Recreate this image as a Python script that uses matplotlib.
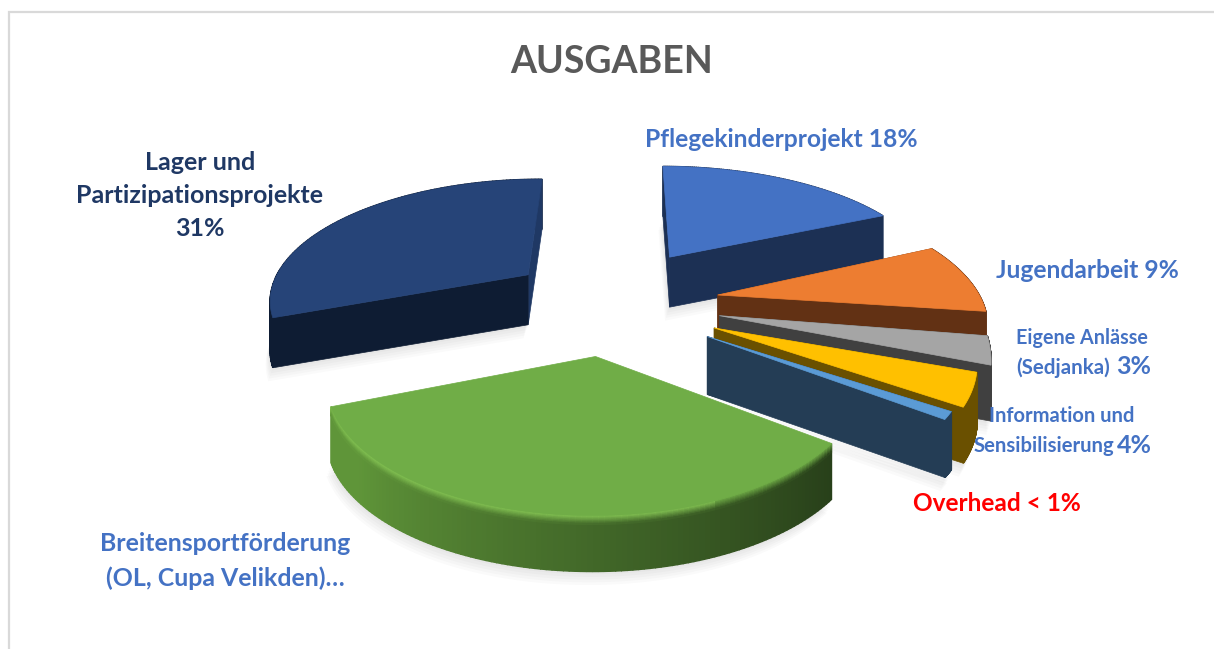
import numpy as np
import matplotlib
matplotlib.use("Agg")
import matplotlib.pyplot as plt
from matplotlib.patches import Polygon
from matplotlib.colors import to_rgb

title = "AUSGABEN"
categories = ["Pflegekinderprojekt", "Jugendarbeit", "Eigene Anlässe (Sedjanka)",
              "Information und Sensibilisierung", "Overhead",
              "Breitensportförderung (OL, Cupa Velikden)", "Lager und Partizipationsprojekte"]
values = [18, 9, 3, 4, 1, 34, 31]
top_colors = ["#4472c4", "#ed7d31", "#a5a5a5", "#ffc000", "#5b9bd5", "#70ad47", "#264478"]
wall_colors = ["#1c3054", "#623114", "#404040", "#6a5000", "#243d55", "#2d4a1b", "#0e1c33"]
explode = [0.48, 0.45, 0.45, 0.455, 0.46, 0.41, 0.424]
wall_heights = [50, 56, 56, 56, 58, 56, 50]
radius_x = [1.12, 1.08, 1.04, 1.0, 0.98, 1.0, 1.07]
radius_y = [1.0, 1.0, 1.15, 1.0, 0.93, 0.92, 1.0]
START = 0.5
CX, CY, R, K, P = 610, 303, 245, 122, 0.18
draw_order = [6, 0, 1, 2, 3, 4, 5]

def project(X, Y, dz=0.0):
    s = 1.0 / (1.0 - P * Y)
    return CX + R * X * s, CY + K * Y * s + dz

fig = plt.figure(figsize=(12.14, 6.49), dpi=100)
ax = fig.add_axes([0, 0, 1, 1])
ax.set_xlim(0, 1214); ax.set_ylim(649, 0); ax.axis("off")
ax.plot([8.5, 8.5, 1214], [649, 12, 12], color="#d9d9d9", lw=1.6, solid_joinstyle="miter")

total = sum(values)
edges = START + 360 * np.concatenate([[0], np.cumsum(values)]) / total

def shape(i, dz=0.0):
    a0, a1 = np.radians(edges[i]), np.radians(edges[i + 1])
    m = (a0 + a1) / 2
    ox, oy = explode[i] * np.sin(m), -explode[i] * np.cos(m)
    th = np.linspace(a0, a1, 120)
    arc = np.array([project(ox + radius_x[i] * np.sin(t), oy - radius_y[i] * np.cos(t), dz) for t in th])
    tip = np.array(project(ox, oy, dz))
    return tip, arc

top_rgb = np.array(to_rgb(top_colors[5]))
for idx, i in enumerate(draw_order):
    h = wall_heights[i]
    tip0, arc0 = shape(i, 0)
    tip1, arc1 = shape(i, h)
    base = np.vstack([tip1, arc1])
    for d in (15, 12, 9, 6, 3):
        ax.add_patch(Polygon(base + [-0.3 * d, d * 0.9], closed=True, fc="#000000", ec="none", alpha=0.02, zorder=1 + idx))
    z = 2 + idx
    wc = wall_colors[i]
    n = len(arc0) - 1
    for j in range(n):
        quad = [arc0[j], arc0[j + 1], arc1[j + 1], arc1[j]]
        c = wc
        if i == 5:
            f = j / (n - 1)
            c1, c2 = np.array(to_rgb("#28401a")), np.array(to_rgb("#5f9539"))
            c = tuple(c1 + (c2 - c1) * min(1, f * 1.15) ** 1.1)
        ax.add_patch(Polygon(quad, closed=True, fc=c, ec=c, lw=1.0, zorder=z))
        if i == 5:
            # bevel: blend from the top colour into the wall colour over the first few pixels
            bands = 7
            for b in range(bands):
                t0, t1 = b * 9 / bands / h, (b + 1) * 9 / bands / h
                p0 = arc0[j] + (arc1[j] - arc0[j]) * t0
                p1 = arc0[j + 1] + (arc1[j + 1] - arc0[j + 1]) * t0
                p2 = arc0[j + 1] + (arc1[j + 1] - arc0[j + 1]) * t1
                p3 = arc0[j] + (arc1[j] - arc0[j]) * t1
                w = (b + 0.5) / bands
                glow = np.array(to_rgb("#86c655")) if f > 0.25 else top_rgb
                col = tuple((glow * (1 - w) + np.array(c) * w))
                ax.add_patch(Polygon([p0, p1, p2, p3], closed=True, fc=col, ec=col, lw=0.8, zorder=z + 0.05))
    if i != 5:
        start_wall = [tip0, arc0[0], arc1[0], tip1]
        end_wall = [tip0, arc0[-1], arc1[-1], tip1]
        order = [(start_wall, wc), (end_wall, wc)]
        if i == 6:
            order = [(end_wall, "#1f3864"), (start_wall, "#0e1c33")]
        for w_, c in order:
            ax.add_patch(Polygon(w_, closed=True, fc=c, ec=c, lw=0.5, zorder=z + 0.1))
    ax.add_patch(Polygon(np.vstack([tip0, arc0]), closed=True, fc=top_colors[i], ec=top_colors[i], lw=0.5, zorder=z + 0.2))

BLUE = "#4472c4"; FONT = "Lato"
ax.text(612, 62, title, ha="center", va="center", color="#595959", fontsize=27, fontweight="bold", family=FONT)
def label(x, y, s, color=BLUE, size=17.7, ha="center"):
    ax.text(x, y + 1.5, s, ha=ha, va="center", color=color, fontsize=size, fontweight="bold", family=FONT, zorder=20)
label(781, 138, "Pflegekinderprojekt 18%")
label(1087, 269, "Jugendarbeit 9%")
label(1082, 336, "Eigene Anlässe", size=14.2)
label(1016, 366, "(Sedjanka)", size=14.8, ha="left")
label(1116, 365, "3%", size=18, ha="left")
label(1062, 415, "Information und", size=14.5)
label(974, 445, "Sensibilisierung", size=14.6, ha="left")
label(1117, 444, "4%", size=18, ha="left")
label(997, 502, "Overhead < 1%", color="#ff0000", size=17.6)
label(225, 542, "Breitensportförderung", size=17.9)
label(225, 577, "(OL, Cupa Velikden)…", size=17.9)
label(200, 161, "Lager und", color="#1f3864", size=18)
label(200, 194, "Partizipationsprojekte", color="#1f3864", size=18)
label(200, 227, "31%", color="#1f3864", size=18)

fig.savefig("out.png", dpi=100)
